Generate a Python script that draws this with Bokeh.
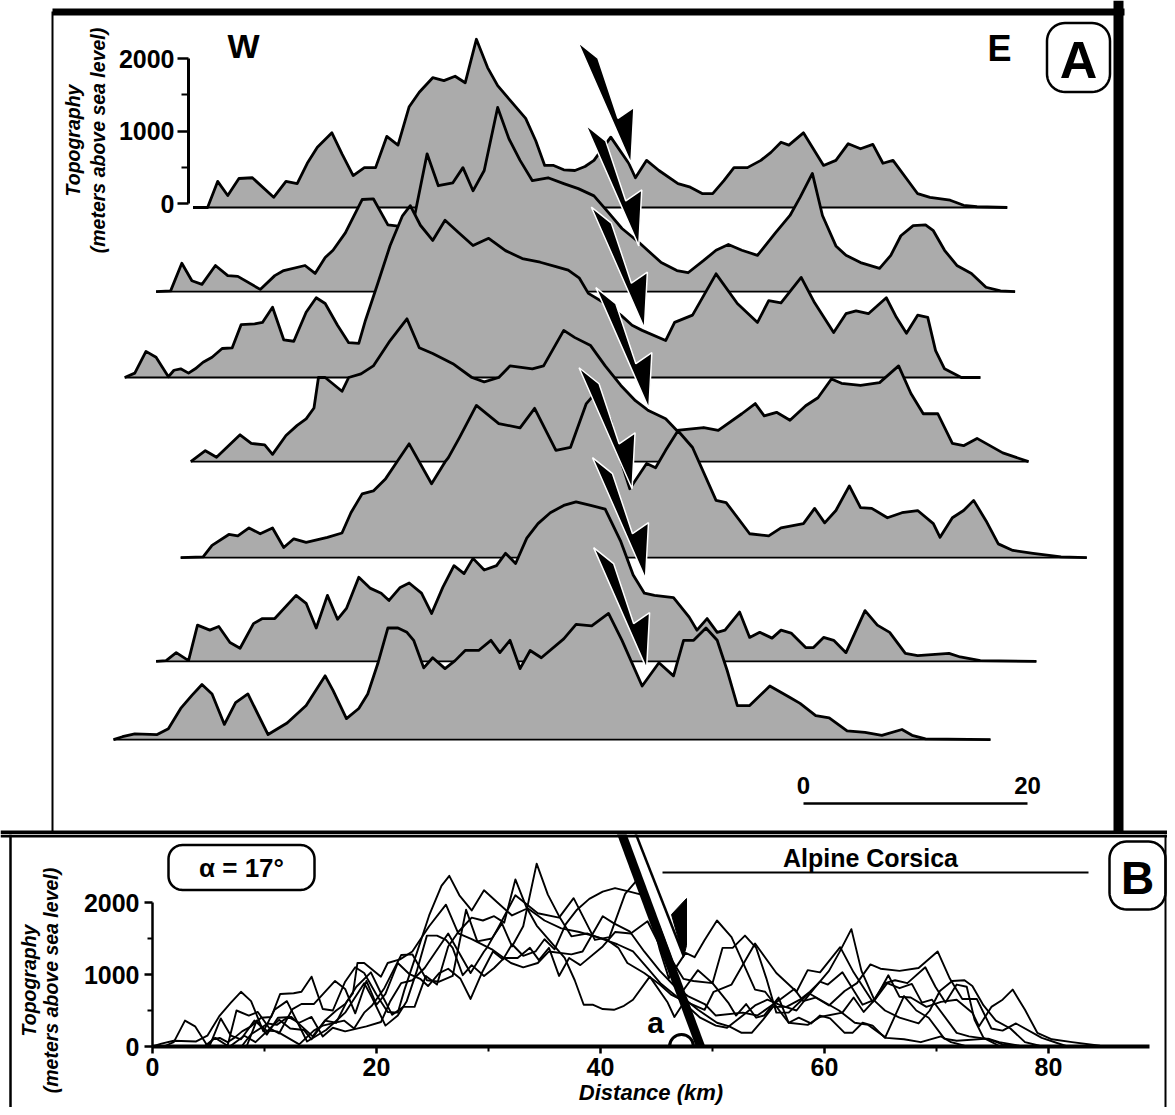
import numpy as np
from bokeh.plotting import figure
from bokeh.layouts import column
from bokeh.models import LinearAxis, FixedTicker, Range1d
from bokeh.core.properties import value
from bokeh.embed import file_html
from bokeh.resources import INLINE

FONT = "Liberation Sans"

# ---------------- data (distance in km, topography in m) ----------------
row1_km = [7.1, 8.4, 9.3, 10.2, 11.2, 12.4, 14.3, 15.4, 16.4, 17.3, 18.2, 19.5, 20.4, 21.4, 22.4, 23.4, 24.4, 25.4, 26.4, 27.3,
           28.5, 29.5, 30.5, 31.4, 32.4, 33.4, 34.3, 35.4, 36.8, 37.7, 38.5, 39.3, 40.2, 41.2, 42.1, 42.9, 44.4, 46.0, 46.6, 47.6,
           48.7, 50.4, 51.5, 52.6, 53.5, 54.5, 55.4, 56.6, 57.8, 58.7, 59.6, 60.3, 61.6, 63.4, 64.5, 65.6, 66.7, 67.8, 68.7, 69.6,
           71.8, 72.9, 74.7, 75.9, 77.1, 79.8]
row1_m = [0, 0, 360, 165, 400, 410, 140, 360, 330, 610, 830, 1030, 740, 440, 550, 550, 980, 860, 1390, 1590,
          1790, 1750, 1810, 1720, 2320, 1930, 1680, 1480, 1230, 920, 580, 580, 520, 510, 565, 650, 970, 610, 410, 650,
          510, 330, 280, 190, 190, 370, 550, 550, 650, 760, 900, 860, 1030, 580, 650, 880, 810, 870, 610, 650,
          190, 140, 100, 30, 10, 0]

row2_km = [3.8, 5.1, 6.1, 7.0, 7.9, 9.1, 10.2, 11.1, 13.1, 14.4, 15.2, 17.1, 18.0, 18.9, 19.6, 20.7, 22.2, 23.2, 24.5, 25.6,
           26.8, 28.0, 29.0, 30.3, 31.2, 32.1, 33.1, 34.3, 35.3, 36.3, 37.4, 38.8, 40.2, 41.5, 42.9, 44.2, 45.4, 46.9, 48.9, 50.3,
           51.3, 52.7, 53.8, 54.9, 56.1, 57.5, 59.1, 60.4, 61.3, 62.4, 63.3, 64.5, 65.4, 66.7, 68.4, 69.4, 70.3, 71.4, 72.5, 73.2,
           74.2, 75.3, 76.6, 77.9, 79.2, 80.5]
row2_m = [0, 10, 390, 150, 100, 360, 220, 210, 30, 220, 290, 360, 250, 470, 570, 810, 1270, 1280, 920, 900,
          980, 1900, 1460, 1500, 1710, 1390, 1670, 2540, 2110, 1810, 1530, 1570, 1490, 1420, 1320, 1090, 870, 680, 400, 290,
          260, 430, 570, 650, 570, 500, 810, 1050, 1300, 1630, 1050, 630, 500, 400, 320, 500, 770, 910, 920, 840,
          570, 360, 250, 60, 10, 0]

row3_km = [1.0, 1.9, 2.9, 3.8, 4.9, 5.4, 6.0, 6.7, 7.3, 8.0, 8.8, 9.7, 10.6, 11.4, 12.6, 13.3, 14.2, 15.2, 16.1, 17.2,
           18.1, 18.9, 20.0, 21.0, 21.9, 22.5, 23.6, 24.7, 25.8, 26.5, 27.4, 28.5, 29.6, 30.8, 32.1, 33.5, 35.0, 36.5, 38.1, 39.5,
           40.6, 41.6, 42.4, 43.9, 45.3, 46.3, 47.2, 49.3, 50.1, 51.7, 53.8, 55.7, 57.5, 58.5, 59.6, 61.4, 62.6, 64.3, 65.4, 66.3,
           67.4, 69.0, 69.9, 70.8, 71.8, 72.7, 73.4, 74.2, 75.7, 77.4]
row3_m = [0, 60, 360, 280, 10, 100, 120, 60, 120, 210, 280, 400, 410, 730, 740, 760, 970, 520, 500, 900,
          1100, 1020, 720, 480, 470, 790, 1300, 1820, 2230, 2370, 2100, 1890, 2170, 2000, 1820, 1920, 1750, 1640, 1590, 1530,
          1480, 1370, 1160, 1020, 860, 720, 650, 510, 760, 860, 1430, 1020, 760, 1060, 1030, 1380, 1030, 620, 880, 920,
          880, 1100, 830, 610, 860, 830, 370, 120, 0, 0]

row4_km = [6.9, 8.2, 9.2, 11.3, 12.3, 13.5, 14.2, 15.4, 16.4, 17.2, 17.9, 18.3, 18.9, 20.4, 21.0, 22.1, 23.2, 24.7, 26.2, 27.3,
           28.5, 30.3, 32.0, 33.1, 34.4, 35.4, 37.4, 38.4, 40.2, 41.2, 42.6, 43.9, 45.3, 46.6, 47.8, 49.3, 50.3, 52.7, 54.0, 56.1,
           57.3, 58.1, 59.2, 60.4, 61.8, 62.9, 64.1, 65.0, 66.7, 68.4, 70.1, 71.2, 72.3, 73.6, 74.9, 75.9, 77.1, 79.4, 81.7]
row4_m = [0, 150, 60, 370, 250, 230, 100, 360, 500, 590, 740, 1160, 1160, 970, 1160, 1210, 1320, 1670, 1970, 1570,
          1490, 1350, 1160, 1100, 1160, 1320, 1280, 1320, 1810, 1710, 1600, 1320, 1050, 840, 700, 590, 430, 470, 430, 660,
          800, 630, 680, 570, 770, 880, 1140, 1080, 1050, 1090, 1320, 940, 660, 660, 250, 220, 320, 120, 0]

row5_km = [6.0, 8.0, 8.8, 10.3, 11.1, 12.1, 13.1, 14.2, 15.2, 16.1, 17.2, 19.1, 20.4, 21.2, 22.2, 23.2, 24.3, 25.3, 26.4, 28.4,
           29.6, 29.9, 30.9, 32.4, 34.4, 36.3, 37.6, 39.5, 40.8, 42.2, 43.2, 44.4, 45.3, 46.1, 47.6, 48.4, 49.3, 50.4, 51.7, 53.8,
           54.7, 56.8, 58.5, 59.6, 61.6, 62.6, 63.5, 64.5, 65.7, 66.7, 67.7, 69.1, 70.4, 71.8, 73.2, 73.8, 74.9, 75.9, 76.8, 77.9,
           79.0, 80.3, 82.1, 84.6, 86.9]
row5_m = [0, 10, 170, 320, 300, 410, 330, 410, 140, 260, 210, 280, 340, 620, 880, 920, 1090, 1320, 1570, 1020,
          1320, 1380, 1660, 2100, 1850, 1790, 2060, 1480, 1520, 2120, 2300, 1890, 1340, 950, 1300, 1240, 1480, 1750, 1520, 790,
          760, 330, 300, 410, 470, 680, 480, 650, 990, 690, 680, 550, 620, 650, 470, 280, 550, 650, 790, 510,
          190, 100, 60, 10, 0]

row6_km = [3.8, 4.7, 5.6, 6.7, 7.5, 8.6, 9.4, 10.4, 11.3, 12.5, 13.3, 14.4, 16.3, 17.2, 18.1, 19.1, 20.0, 20.8, 21.9, 22.9,
           23.9, 24.6, 25.6, 26.4, 27.5, 28.4, 29.4, 30.4, 31.3, 32.1, 33.1, 34.2, 35.0, 35.9, 36.9, 37.9, 39.0, 40.2, 41.3, 42.6,
           43.9, 45.3, 46.4, 47.4, 48.3, 50.0, 51.4, 52.1, 53.0, 53.9, 54.6, 55.9, 56.8, 57.7, 58.8, 59.6, 60.5, 61.8, 62.5, 63.4,
           64.3, 65.4, 67.1, 68.2, 69.3, 70.7, 71.8, 74.6, 75.6, 77.4, 82.4]
row6_m = [0, 10, 120, 10, 500, 430, 480, 260, 180, 520, 590, 590, 910, 800, 460, 910, 580, 730, 1160, 1010,
          940, 840, 1020, 1080, 940, 660, 1020, 1320, 1210, 1420, 1260, 1320, 1490, 1350, 1700, 1900, 2050, 2150, 2200, 2150,
          2100, 1650, 1190, 940, 910, 880, 610, 430, 590, 400, 430, 680, 330, 400, 320, 430, 390, 190, 190, 330,
          290, 120, 700, 500, 400, 110, 80, 110, 60, 10, 0]

row7_km = [0.0, 0.8, 1.9, 3.9, 4.9, 6.0, 7.0, 7.9, 8.8, 9.9, 10.9, 12.0, 13.8, 15.5, 17.2, 18.9, 19.6, 20.8, 21.9, 22.7,
           23.6, 24.5, 25.4, 26.2, 26.8, 27.7, 28.5, 29.6, 30.5, 31.4, 32.6, 33.7, 34.5, 35.4, 36.3, 37.2, 38.2, 40.2, 41.3, 42.7,
           44.2, 45.4, 47.2, 48.7, 50.0, 50.9, 51.8, 52.9, 53.9, 54.8, 55.7, 56.8, 58.6, 60.4, 61.3, 62.7, 63.9, 65.5, 67.1, 68.6,
           70.4, 71.3, 72.5, 78.3]
row7_m = [0, 40, 80, 70, 150, 430, 610, 760, 630, 210, 510, 630, 70, 230, 470, 880, 680, 290, 430, 630,
          1050, 1540, 1540, 1480, 1370, 990, 1130, 980, 1090, 1230, 1230, 1370, 1200, 1370, 980, 1230, 1130, 1390, 1590, 1570,
          1740, 1370, 740, 1060, 880, 1370, 1370, 1540, 1370, 950, 470, 470, 740, 580, 500, 330, 300, 120, 100, 60,
          140, 60, 10, 0]

profiles_km = [row1_km, row2_km, row3_km, row4_km, row5_km, row6_km, row7_km]
profiles_m = [row1_m, row2_m, row3_m, row4_m, row5_m, row6_m, row7_m]

# vertical offset of each stacked profile in panel A (m)
row_offsets = [-55, -1215, -2400, -3560, -4885, -6315, -7395]
# fault (arrow tip) position on each profile: distance (km), height above its baseline (m)
fault_km = [46.2, 46.9, 47.4, 47.8, 46.3, 47.5, 47.6]
fault_m = [610, 630, 680, 730, 950, 1140, 980]

elev_ticks = [0, 1000, 2000]
elev_minor = [500, 1500]
dist_ticks = [0, 20, 40, 60, 80]
dist_minor = [10, 30, 50, 70]
scale_bar_km = [0, 20]

# ---------------- geometry ----------------
W = 1167
HA, HB = 834, 273
PX_KM = 11.2
A_PX_M = 0.0725
B_PX_M = 0.072
A_X0, A_Y0 = 113, 203      # px of (0 km, 0 m), panel A
B_X0, B_Y0 = 152, 1046     # px of (0 km, 0 m), panel B
LEFT, TOP_A, TOP_B = 0, 0, 834

def ax(X): return (X - A_X0) / PX_KM
def ay(Y): return (A_Y0 - Y) / A_PX_M
def bx(X): return (X - B_X0) / PX_KM
def by(Y): return (B_Y0 - Y) / B_PX_M

FILL = "#ababab"


def make_fig(h, xr, yr):
    p = figure(width=W, height=h, x_range=xr, y_range=yr, x_axis_type=None, y_axis_type=None,
               output_backend="svg", toolbar_location=None, min_border=0,
               outline_line_color=None, background_fill_color="white", border_fill_color="white")
    return p


def txt(p, x, y, s, size, style="bold", angle=0.0):
    p.text(x=[x], y=[y], text=[s], angle=angle, text_font=value(FONT), text_font_style=style,
           text_font_size=size, text_align="center", text_baseline="middle", text_color="black")


def rounded_box(p, fx, fy, cx, cy, w, h, r, lw=2.5):
    xs, ys = [], []
    corners = [(cx + w / 2 - r, cy - h / 2 + r, -90, 0), (cx + w / 2 - r, cy + h / 2 - r, 0, 90),
               (cx - w / 2 + r, cy + h / 2 - r, 90, 180), (cx - w / 2 + r, cy - h / 2 + r, 180, 270)]
    for ccx, ccy, a0, a1 in corners:
        t = np.radians(np.linspace(a0, a1, 12))
        xs += [fx(ccx + r * np.cos(tt)) for tt in t]
        ys += [fy(ccy + r * np.sin(tt)) for tt in t]
    p.patch(xs, ys, fill_color="white", line_color="black", line_width=lw)


def style_axis(a, size, tick_out, minor_out, line_w, standoff):
    a.axis_line_width = line_w
    a.axis_line_color = "black"
    a.major_tick_out = tick_out
    a.major_tick_in = 0
    a.minor_tick_out = minor_out
    a.minor_tick_in = 0
    a.major_tick_line_width = 2.5
    a.minor_tick_line_width = 2
    a.major_label_text_font = FONT
    a.major_label_text_font_size = size
    a.major_label_text_font_style = "bold"
    a.major_label_text_color = "black"
    a.major_label_standoff = standoff


# ================= Panel A =================
pA = make_fig(HA, Range1d(ax(LEFT), ax(LEFT + W)), Range1d(ay(TOP_A + HA), ay(TOP_A)))

for k in range(len(profiles_km)):
    xs = profiles_km[k]
    base = row_offsets[k]
    ys = [base + v for v in profiles_m[k]]
    pA.varea(x=xs, y1=[base] * len(xs), y2=ys, fill_color=FILL)
    pA.line(xs, ys, line_color="black", line_width=2.8, line_join="round")
    pA.line([xs[0], xs[-1]], [base, base], line_color="black", line_width=1.8)

ARROW_PX = [(0, 0), (3, -56), (-13, -45), (-33, -105), (-53, -121)]
arr_x, arr_y = [], []
for k in range(len(fault_km)):
    tx = fault_km[k]
    ty = row_offsets[k] + fault_m[k]
    arr_x.append([tx + dx / PX_KM for dx, dy in ARROW_PX])
    arr_y.append([ty - dy / A_PX_M for dx, dy in ARROW_PX])
pA.patches(arr_x, arr_y, fill_color="black", line_color="white", line_width=1.5)

# frame of panel A
pA.line([ax(52), ax(52)], [ay(11), ay(TOP_A + HA)], line_color="black", line_width=2)
pA.line([ax(52), ax(1124)], [ay(11.5), ay(11.5)], line_color="black", line_width=7)
pA.line([ax(1118), ax(1118)], [ay(TOP_A), ay(833)], line_color="black", line_width=10)
pA.line([ax(LEFT), ax(LEFT + W)], [ay(832), ay(832)], line_color="black", line_width=4)

# scale bar
sb0 = ax(803)
pA.line([sb0 + v for v in scale_bar_km], [ay(803)] * 2, line_color="black", line_width=2.5)
for v in scale_bar_km:
    txt(pA, sb0 + v, ay(785), str(v), "24px")

txt(pA, ax(243), ay(45), "W", "34px")
txt(pA, ax(999), ay(48), "E", "36px")
rounded_box(pA, ax, ay, 1078, 57, 63, 69, 18)
txt(pA, ax(1078), ay(59), "A", "52px")

txt(pA, ax(72), ay(140), "Topography", "19.5px", "bold italic", np.pi / 2)
txt(pA, ax(97), ay(140), "(meters above sea level)", "19.5px", "bold italic", np.pi / 2)

yA = LinearAxis(fixed_location=ax(188), bounds=(0, 2000),
                ticker=FixedTicker(ticks=elev_ticks, minor_ticks=elev_minor))
style_axis(yA, "25px", 11, 7, 3, 3)
pA.add_layout(yA, "left")

# ================= Panel B =================
pB = make_fig(HB, Range1d(bx(LEFT), bx(LEFT + W)), Range1d(by(TOP_B + HB), by(TOP_B)))

for k in range(len(profiles_km)):
    pB.line(profiles_km[k], profiles_m[k], line_color="black", line_width=1.9, line_join="round")

# fault symbol
pB.line([bx(629), bx(677)], [by(830), by(955)], line_color="white", line_width=9)
pB.line([bx(620), bx(700)], [by(830), by(1046)], line_color="black", line_width=9)
pB.line([bx(634), bx(683)], [by(830), by(955)], line_color="black", line_width=2.5)
pB.patch([bx(686), bx(686), bx(683), bx(671)], [by(898), by(945), by(957), by(914)],
         fill_color="black", line_color="black")
pB.arc(x=[bx(681)], y=[0], radius=12, radius_units="screen", start_angle=0, end_angle=np.pi,
       line_color="black", line_width=3)
txt(pB, bx(655), by(1022), "a", "30px")

txt(pB, bx(870), by(857), "Alpine Corsica", "25px")
pB.line([bx(662), bx(1088)], [by(872), by(872)], line_color="black", line_width=2)

rounded_box(pB, bx, by, 241, 867, 146, 45, 14)
txt(pB, bx(241), by(867), "\u03b1 = 17\u00b0", "26px")
rounded_box(pB, bx, by, 1137, 875, 56, 68, 17)
txt(pB, bx(1137), by(877), "B", "46px")

txt(pB, bx(28), by(980), "Topography", "19.5px", "bold italic", np.pi / 2)
txt(pB, bx(50), by(980), "(meters above sea level)", "19.5px", "bold italic", np.pi / 2)

# frame of panel B
pB.line([bx(LEFT), bx(LEFT + W)], [by(835.5), by(835.5)], line_color="black", line_width=3)
pB.line([bx(10), bx(10)], [by(834), by(TOP_B + HB)], line_color="black", line_width=2.5)
pB.line([bx(1165), bx(1165)], [by(834), by(TOP_B + HB)], line_color="black", line_width=2)

yB = LinearAxis(fixed_location=0, bounds=(0, 2000),
                ticker=FixedTicker(ticks=elev_ticks, minor_ticks=elev_minor))
style_axis(yB, "25px", 8, 5, 2.5, 5)
pB.add_layout(yB, "left")

xB = LinearAxis(fixed_location=0, bounds=(0, 89),
                ticker=FixedTicker(ticks=dist_ticks, minor_ticks=dist_minor),
                axis_label="Distance (km)")
style_axis(xB, "25px", 7, 5, 4, 4)
xB.axis_label_text_font = FONT
xB.axis_label_text_font_size = "22px"
xB.axis_label_text_font_style = "bold italic"
xB.axis_label_text_color = "black"
xB.axis_label_standoff = 1
pB.add_layout(xB, "below")

layout = column(pA, pB, spacing=0)
open("out.html", "w").write(file_html(layout, INLINE))
